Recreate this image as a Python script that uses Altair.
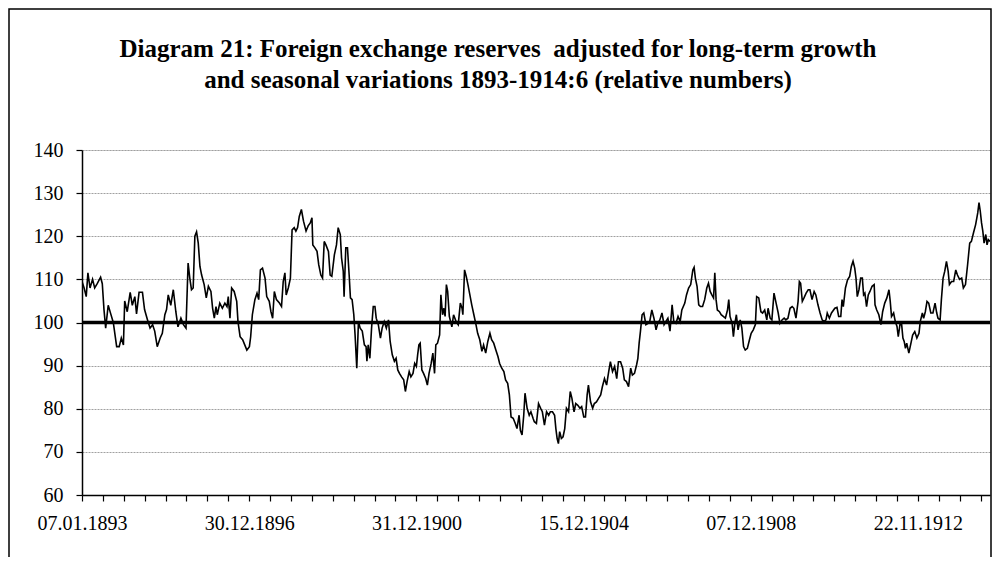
import altair as alt
import pandas as pd

# ---- data (decimal year, relative level) ----
seg_1893_1896 = [
    (1893.02, 109.5), (1893.07, 108), (1893.12, 106), (1893.16, 111.5), (1893.21, 108), (1893.27, 110),
    (1893.32, 108), (1893.38, 109), (1893.46, 110.5), (1893.50, 109), (1893.54, 103), (1893.58, 98.7),
    (1893.64, 104), (1893.70, 102), (1893.76, 100), (1893.84, 94.4), (1893.90, 94.4), (1893.95, 96.4),
    (1894.00, 94.8), (1894.03, 105), (1894.09, 102.5), (1894.16, 107), (1894.21, 104), (1894.27, 106),
    (1894.31, 102), (1894.37, 107), (1894.45, 107), (1894.50, 103), (1894.57, 100.6), (1894.63, 98.7),
    (1894.69, 99.5), (1894.74, 98), (1894.80, 94.4), (1894.87, 96.4), (1894.92, 97.5), (1894.98, 101.8),
    (1895.02, 103), (1895.06, 106.4), (1895.12, 104), (1895.18, 107.6), (1895.24, 102.5), (1895.29, 99),
    (1895.36, 101), (1895.42, 99.5), (1895.48, 98.7), (1895.53, 113.8), (1895.57, 110.3), (1895.61, 107.6),
    (1895.65, 108), (1895.69, 120), (1895.73, 121), (1895.77, 118.4), (1895.81, 113), (1895.85, 111),
    (1895.91, 108.8), (1895.96, 105.7), (1896.01, 108.4), (1896.07, 107.2), (1896.11, 103.3), (1896.15, 101),
    (1896.19, 103.7), (1896.22, 101.8), (1896.28, 104.5), (1896.34, 103.3), (1896.40, 104.5), (1896.45, 103.7),
    (1896.48, 106), (1896.52, 101), (1896.56, 108),
]
seg_1896_1900 = [
    (1896.62, 107.2), (1896.68, 104.9), (1896.71, 100.2), (1896.76, 96.7), (1896.82, 96), (1896.87, 94.8),
    (1896.92, 93.6), (1896.98, 94.4), (1897.01, 96.7), (1897.05, 101.8), (1897.11, 105.3), (1897.16, 106.8),
    (1897.20, 105.3), (1897.24, 112.2), (1897.29, 112.6), (1897.35, 110.3), (1897.39, 106), (1897.45, 104.9),
    (1897.49, 102.5), (1897.53, 101), (1897.57, 107.2), (1897.62, 105.3), (1897.69, 104.5), (1897.74, 103.7),
    (1897.78, 109.5), (1897.82, 111.5), (1897.85, 106.4), (1897.90, 108), (1897.95, 110.3), (1897.99, 121.5),
    (1898.04, 122), (1898.08, 121.2), (1898.12, 122), (1898.16, 124.6), (1898.21, 126.2), (1898.26, 123.5),
    (1898.32, 121.2), (1898.37, 122.4), (1898.42, 123.1), (1898.46, 124.3), (1898.48, 118), (1898.53, 117.3),
    (1898.58, 116.5), (1898.62, 113.4), (1898.67, 111), (1898.71, 110.3), (1898.75, 118.8), (1898.79, 118),
    (1898.85, 116.5), (1898.89, 111), (1898.93, 110.7), (1898.99, 115.7), (1899.04, 118), (1899.08, 122),
    (1899.13, 120.4), (1899.16, 115), (1899.20, 111.9), (1899.22, 106), (1899.26, 117.3), (1899.30, 117.3),
    (1899.34, 111), (1899.37, 105.7), (1899.41, 105.3), (1899.45, 101.8), (1899.48, 97.1), (1899.52, 89.4),
    (1899.56, 100.2), (1899.60, 98.7), (1899.65, 98), (1899.70, 94.8), (1899.74, 94.4), (1899.76, 91),
    (1899.79, 94.8), (1899.83, 91.7), (1899.87, 98.7), (1899.91, 103.7), (1899.95, 103.7), (1899.98, 101),
    (1900.03, 99.5), (1900.08, 96.4), (1900.12, 98.7),
]
seg_1900_1903 = [
    (1900.17, 100.2), (1900.22, 98.7), (1900.27, 100.6), (1900.31, 95.6), (1900.36, 92.5), (1900.41, 91),
    (1900.45, 91.7), (1900.49, 89), (1900.53, 88.2), (1900.58, 87.4), (1900.63, 86.7), (1900.67, 84),
    (1900.71, 86.3), (1900.76, 88.6), (1900.80, 87.4), (1900.85, 88.2), (1900.89, 90.5), (1900.93, 89.8),
    (1900.96, 92.5), (1900.99, 94.8), (1901.02, 95.2), (1901.06, 89), (1901.10, 88.2), (1901.15, 87),
    (1901.19, 85.5), (1901.23, 88.2), (1901.28, 90.5), (1901.32, 92.9), (1901.36, 88.2), (1901.39, 94.8),
    (1901.43, 95.2), (1901.48, 97.1), (1901.51, 106.4), (1901.55, 101.8), (1901.58, 103.3), (1901.61, 101.4),
    (1901.64, 108.8), (1901.67, 107.2), (1901.71, 101.4), (1901.77, 99), (1901.81, 101.8), (1901.87, 100.2),
    (1901.92, 99.5), (1901.97, 104.5), (1902.01, 103.3), (1902.03, 101.8), (1902.07, 112.2), (1902.11, 110.7),
    (1902.15, 108.8), (1902.18, 107.2), (1902.24, 104.1), (1902.29, 101.8), (1902.34, 99.5), (1902.38, 97.5),
    (1902.43, 96), (1902.48, 93.3), (1902.52, 94.8), (1902.57, 92.9), (1902.62, 95.6), (1902.67, 97.5),
    (1902.71, 96), (1902.76, 95.2), (1902.81, 93.6), (1902.86, 92.1), (1902.90, 90.5), (1902.95, 89.4),
    (1903.00, 88.6), (1903.04, 86.7), (1903.09, 85.9), (1903.13, 83.2), (1903.17, 78.1), (1903.22, 77.8),
    (1903.27, 76.6), (1903.31, 75.4), (1903.36, 78.5), (1903.39, 75), (1903.43, 73.9), (1903.47, 78.5),
    (1903.50, 83.6), (1903.55, 80.1), (1903.60, 78.5), (1903.64, 79.3), (1903.69, 77.8),
]
seg_1903_1907 = [
    (1903.72, 77), (1903.77, 76.6), (1903.82, 81.2), (1903.87, 80.1), (1903.91, 79.3), (1903.96, 76.2),
    (1904.01, 79.3), (1904.06, 78.5), (1904.10, 79.3), (1904.15, 79.3), (1904.20, 78.5), (1904.23, 75.4),
    (1904.26, 73.1), (1904.29, 71.9), (1904.32, 74.7), (1904.36, 73.1), (1904.40, 73.5), (1904.44, 75.4),
    (1904.48, 80.1), (1904.53, 79.3), (1904.57, 84), (1904.61, 82.4), (1904.66, 79.3), (1904.70, 81.2),
    (1904.75, 80.8), (1904.80, 80.1), (1904.84, 80.5), (1904.89, 78.1), (1904.93, 78.1), (1904.97, 83.2),
    (1905.00, 85.5), (1905.05, 81.6), (1905.10, 80.1), (1905.14, 81.2), (1905.19, 81.6), (1905.24, 82.4),
    (1905.29, 83.2), (1905.33, 85.1), (1905.38, 87), (1905.43, 85.5), (1905.48, 88.6), (1905.52, 90.9),
    (1905.57, 88.6), (1905.62, 89.8), (1905.67, 87), (1905.71, 90.9), (1905.76, 90.9), (1905.81, 89.4),
    (1905.85, 86.7), (1905.90, 86.3), (1905.95, 85.1), (1906.00, 89.4), (1906.04, 87.8), (1906.09, 88.2),
    (1906.14, 90.2), (1906.17, 91.7), (1906.20, 95.2), (1906.23, 97.9), (1906.27, 101.8), (1906.31, 102.2),
    (1906.36, 99.5), (1906.41, 99.8), (1906.45, 100.2), (1906.50, 102.9), (1906.55, 101), (1906.60, 98.3),
    (1906.64, 99.8), (1906.69, 100.6), (1906.74, 102.2), (1906.79, 99.5), (1906.83, 100.2), (1906.88, 101),
    (1906.93, 98), (1906.98, 104.1), (1907.02, 100.2), (1907.07, 99.8), (1907.12, 101.4), (1907.17, 100.2),
    (1907.21, 102.9),
]
seg_1907_1910 = [
    (1907.28, 104.5), (1907.32, 106.4), (1907.37, 108), (1907.42, 108.8), (1907.47, 112.2), (1907.50, 112.8),
    (1907.53, 110.3), (1907.57, 108.4), (1907.61, 104.1), (1907.65, 103.7), (1907.70, 103.7), (1907.75, 105.3),
    (1907.80, 108), (1907.84, 109.1), (1907.88, 107.2), (1907.92, 106.4), (1907.96, 105.7), (1907.99, 111.5),
    (1908.02, 105.3), (1908.05, 102.9), (1908.10, 102.5), (1908.14, 101.8), (1908.19, 101.4), (1908.24, 101),
    (1908.29, 102.9), (1908.32, 105.3), (1908.35, 101.4), (1908.40, 99.8), (1908.43, 96.7), (1908.46, 99.5),
    (1908.50, 101.8), (1908.54, 98.3), (1908.59, 100.6), (1908.63, 98.7), (1908.67, 94.4), (1908.71, 93.6),
    (1908.76, 94), (1908.81, 96), (1908.85, 97.5), (1908.90, 98.3), (1908.95, 99.5), (1908.98, 106),
    (1909.03, 105.7), (1909.08, 102.5), (1909.12, 102.2), (1909.17, 102.9), (1909.22, 100.6), (1909.25, 103.3),
    (1909.30, 101), (1909.34, 100.6), (1909.39, 106.8), (1909.44, 104.5), (1909.49, 102.2), (1909.53, 99.8),
    (1909.58, 100.6), (1909.63, 101), (1909.67, 100.6), (1909.72, 101), (1909.77, 103.3), (1909.82, 103.7),
    (1909.86, 103.3), (1909.91, 101), (1909.96, 104.9), (1909.99, 109.5), (1910.02, 109.1), (1910.06, 104.9),
    (1910.10, 105.7), (1910.15, 106.8), (1910.20, 107.6), (1910.24, 107.6), (1910.29, 105.3), (1910.34, 107.2),
    (1910.38, 106.4), (1910.43, 104.1), (1910.48, 102.2), (1910.53, 100.6), (1910.57, 100.2), (1910.62, 100.6),
    (1910.65, 102.2), (1910.70, 101), (1910.75, 102.2),
]
seg_1910_1914 = [
    (1910.83, 103.3), (1910.88, 103.5), (1910.92, 101.4), (1910.97, 101.4), (1911.00, 105.3), (1911.03, 103.7),
    (1911.08, 108), (1911.13, 109.9), (1911.18, 110.7), (1911.22, 113), (1911.26, 114.2), (1911.30, 112.6),
    (1911.33, 110.3), (1911.36, 106), (1911.40, 107.6), (1911.44, 110.3), (1911.48, 110.3), (1911.51, 106.4),
    (1911.54, 106.8), (1911.58, 103.7), (1911.62, 106.4), (1911.66, 107.2), (1911.71, 108.4), (1911.76, 108.8),
    (1911.78, 104.1), (1911.82, 102.9), (1911.87, 101.8), (1911.92, 99.5), (1911.96, 102.5), (1912.01, 104.5),
    (1912.06, 105.7), (1912.11, 107.6), (1912.14, 104.9), (1912.17, 101.4), (1912.22, 102.2), (1912.26, 100.2),
    (1912.30, 99.1), (1912.33, 96.7), (1912.37, 99.5), (1912.41, 99.5), (1912.44, 96.4), (1912.47, 95.6),
    (1912.50, 94), (1912.53, 95.2), (1912.58, 92.9), (1912.63, 95.2), (1912.67, 97.1), (1912.72, 97.9),
    (1912.77, 96.4), (1912.82, 97.5), (1912.85, 100.2), (1912.90, 102.2), (1912.93, 101), (1912.97, 102.5),
    (1913.01, 104.9), (1913.05, 104.5), (1913.10, 102.2), (1913.15, 102.2), (1913.20, 104.5), (1913.24, 102.2),
    (1913.27, 101), (1913.32, 100.6), (1913.35, 105.3), (1913.39, 110.3), (1913.43, 111.9), (1913.47, 114.2),
    (1913.51, 111.9), (1913.54, 108.8), (1913.59, 109.5), (1913.64, 109.5), (1913.69, 112.2), (1913.73, 111),
    (1913.78, 110), (1913.83, 110.3), (1913.87, 108), (1913.92, 108.8), (1913.97, 113.4), (1914.02, 118.4),
    (1914.06, 118.8), (1914.11, 120.8), (1914.16, 122.7), (1914.21, 125.4), (1914.24, 127.8), (1914.27, 125.8),
    (1914.30, 123.1), (1914.33, 121.2), (1914.36, 118.4), (1914.40, 120.4), (1914.43, 118), (1914.46, 119.2),
    (1914.50, 118.8),
]

x_label_text = ["07.01.1893", "30.12.1896", "31.12.1900", "15.12.1904", "07.12.1908", "22.11.1912"]
y_ticks = [60, 70, 80, 90, 100, 110, 120, 130, 140]
ref_level = [100]
title_lines = ["Diagram 21: Foreign exchange reserves \u00a0adjusted for long-term growth",
               "and seasonal variations 1893-1914:6 (relative numbers)"]

# ---- build ----
rows = seg_1893_1896 + seg_1896_1900 + seg_1900_1903 + seg_1903_1907 + seg_1907_1910 + seg_1910_1914
df = pd.DataFrame(rows, columns=["t", "v"])

t0, t1 = 1893.02, 1914.50
tick_step = 0.4944          # one category tick every 26 observations
tick_vals = [round(t0 + i * tick_step, 4) for i in range(44)]
label_arr = "[" + ",".join("'%s'" % s for s in x_label_text) + "]"
idx = "round((datum.value-%s)/%s)" % (t0, tick_step)
label_expr = "%s %% 8 == 0 ? %s[%s/8] : ''" % (idx, label_arr, idx)

W, H = 908, 345
FONT = "Liberation Serif"

xs = alt.X("t:Q", scale=alt.Scale(domain=[t0, t1], nice=False, zero=False),
           axis=alt.Axis(values=tick_vals, labelExpr=label_expr, title=None, grid=False,
                         labelFlush=False, labelOverlap=False, tickSize=6, labelPadding=12,
                         domainColor="black", tickColor="black", domainWidth=1.5, tickWidth=1.2,
                         labelFont=FONT, labelFontSize=20, labelColor="black"))
ys = alt.Y("v:Q", scale=alt.Scale(domain=[60, 140], nice=False, zero=False),
           axis=alt.Axis(values=y_ticks, title=None, grid=True, gridColor="#a0a0a0",
                         gridDash=[2, 1], gridWidth=1, tickSize=6, labelPadding=13,
                         domainColor="black", tickColor="black", domainWidth=1.5, tickWidth=1.2,
                         labelFont=FONT, labelFontSize=20, labelColor="black"))

line = alt.Chart(df).mark_line(color="black", strokeWidth=1.6, clip=True).encode(x=xs, y=ys)

ref = alt.Chart(pd.DataFrame({"v": ref_level})).mark_rule(color="black", strokeWidth=3.5).encode(
    y=alt.Y("v:Q"))

frame = alt.Chart(pd.DataFrame({"v": ref_level})).mark_rect(
    fill=None, stroke="black", strokeWidth=1.5).encode(
    x=alt.value(-73), x2=alt.value(W + 1), y=alt.value(-141), y2=alt.value(H + 120))

chart = alt.layer(line, ref, frame).properties(
    width=W, height=H,
    title=alt.TitleParams(title_lines, font=FONT, fontSize=25, fontWeight="bold", color="black",
                          anchor="middle", dx=-38, offset=-85, lineHeight=31),
    autosize=alt.AutoSizeParams(type="none"),
    padding={"left": 74, "top": 142, "right": 2, "bottom": 62},
).configure_view(stroke=None).configure(background="white")

chart.save("out.html", embed_options={"renderer": "svg", "actions": False})
